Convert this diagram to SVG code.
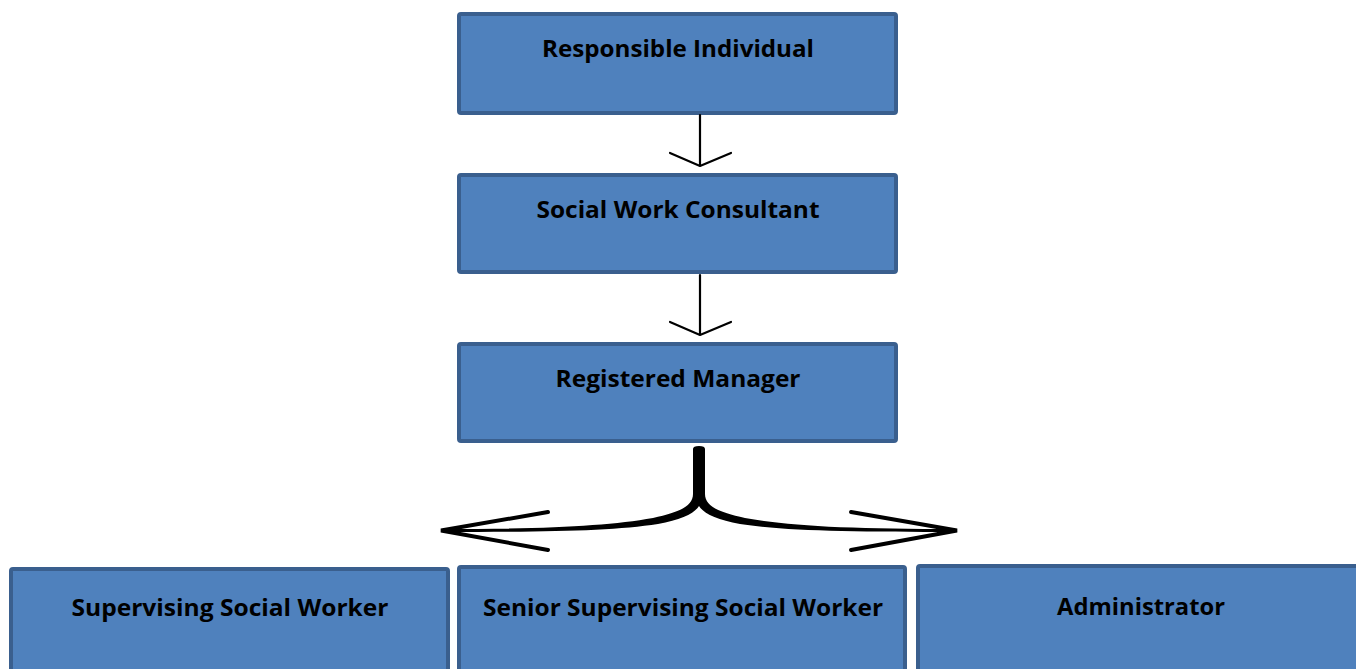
<svg xmlns="http://www.w3.org/2000/svg" width="1356" height="669" viewBox="0 0 1356 669">
  <style>
    .box { fill: #4f81bd; stroke: #3a5f8e; stroke-width: 4; }
    .label { font-family: "Open Sans", "Liberation Sans", sans-serif; font-weight: bold; font-size: 23px; fill: #000; text-anchor: middle; }
    .link { fill: none; stroke: #000; stroke-width: 2.2; stroke-linecap: round; stroke-linejoin: round; }
    .head { fill: none; stroke: #000; stroke-width: 4; stroke-linecap: round; stroke-linejoin: miter; }
  </style>
  <rect width="1356" height="669" fill="#fff"/>

  <g id="responsible-individual">
    <rect class="box" x="459" y="14" width="437" height="99" rx="2"/>
    <text class="label" x="678" y="57" textLength="272" lengthAdjust="spacingAndGlyphs">Responsible Individual</text>
  </g>

  <g id="social-work-consultant">
    <rect class="box" x="459" y="175" width="437" height="97" rx="2"/>
    <text class="label" x="678" y="218" textLength="283" lengthAdjust="spacingAndGlyphs">Social Work Consultant</text>
  </g>

  <g id="registered-manager">
    <rect class="box" x="459" y="344" width="437" height="97" rx="2"/>
    <text class="label" x="678" y="387" textLength="245" lengthAdjust="spacingAndGlyphs">Registered Manager</text>
  </g>

  <g id="supervising-social-worker">
    <rect class="box" x="11" y="569" width="437" height="110" rx="2"/>
    <text class="label" x="230" y="616" textLength="317" lengthAdjust="spacingAndGlyphs">Supervising Social Worker</text>
  </g>

  <g id="senior-supervising-social-worker">
    <rect class="box" x="459" y="567" width="446" height="112" rx="2"/>
    <text class="label" x="683" y="616" textLength="400" lengthAdjust="spacingAndGlyphs">Senior Supervising Social Worker</text>
  </g>

  <g id="administrator">
    <rect class="box" x="918" y="566" width="448" height="113" rx="2"/>
    <text class="label" x="1141" y="615" textLength="168" lengthAdjust="spacingAndGlyphs">Administrator</text>
  </g>

  <g id="connectors">
    <!-- Responsible Individual -> Social Work Consultant -->
    <path class="link" d="M700,115 V165"/>
    <path class="link" d="M670,153 L700,166 L731,153"/>

    <!-- Social Work Consultant -> Registered Manager -->
    <path class="link" d="M700,275 V334"/>
    <path class="link" d="M670,322 L700,335 L731,322"/>

    <!-- Registered Manager -> three staff roles (forked brace) -->
    <path fill="#000" d="M693,449 Q693,446 699,446 Q705,446 705,449 L705,494
      C705,506 718,512 745,518 C790,526 850,529 957,529 L957,532
      C850,532 785,531 740,524 C717,520 703,513 699,506
      C695,513 681,520 658,524 C613,531 548,532 441,532 L441,529
      C548,529 608,526 653,518 C680,512 693,506 693,494 Z"/>
    <path class="head" d="M548,512 L441,530.5 L548,550"/>
    <path class="head" d="M851,512 L957,530.5 L851,550"/>
  </g>
</svg>
